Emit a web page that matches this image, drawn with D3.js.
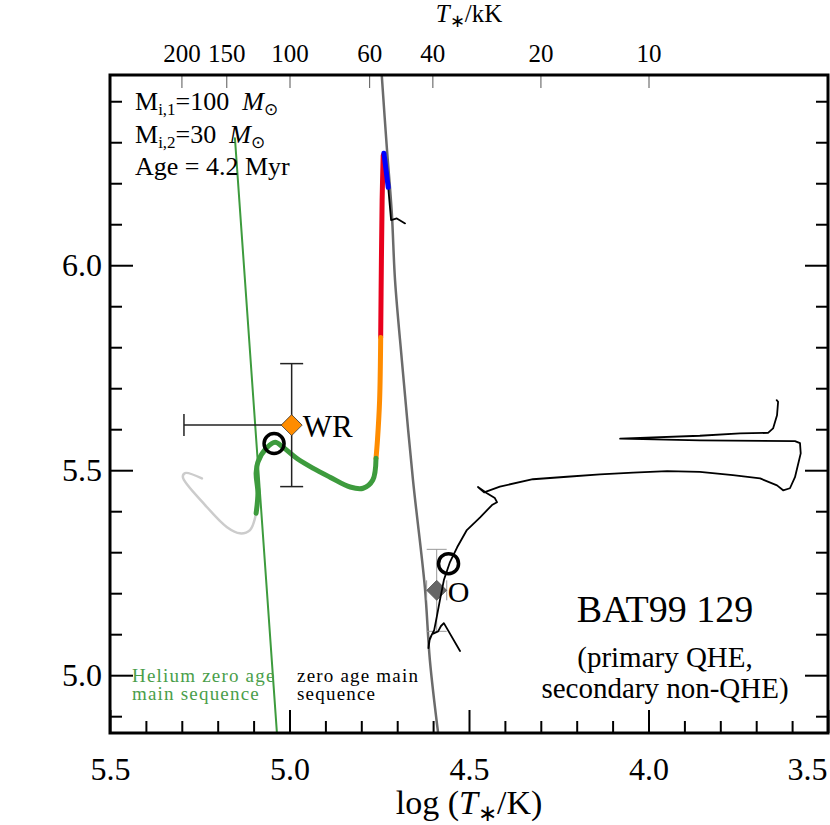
<!DOCTYPE html>
<html lang="en">
<head>
<meta charset="utf-8">
<title>BAT99 129 HRD</title>
<script src="https://d3js.org/d3.v7.min.js"></script>
<style>
  body { margin: 0; background: #fff; }
  svg text { font-family: "Liberation Serif", "Times New Roman", serif; }
</style>
</head>
<body>
<script>
// tick values
var xMajor = [5.5, 5.0, 4.5, 4.0, 3.5];
var xMinor = [5.4, 5.3, 5.2, 5.1, 4.9, 4.8, 4.7, 4.6, 4.4, 4.3, 4.2, 4.1, 3.9, 3.8, 3.7, 3.6];
var yMajor = [5.0, 5.5, 6.0];
var yMinor = [4.9, 5.1, 5.2, 5.3, 5.4, 5.6, 5.7, 5.8, 5.9, 6.1, 6.2, 6.3, 6.4];
var topKK = [200, 150, 100, 60, 40, 20, 10];

// [log T, log L]
var heZAMS = [[5.152, 6.310], [5.035, 4.859]];
var ZAMS = [[4.743, 6.463], [4.729, 6.288], [4.715, 6.127], [4.706, 5.963], [4.687, 5.768],
  [4.656, 5.476], [4.623, 5.215], [4.609, 5.037], [4.586, 4.859]];

// primary track, by phase
var primBlue = [[4.737, 6.273], [4.731, 6.232], [4.725, 6.190]];
var primTail = [[4.725, 6.190], [4.717, 6.110], [4.701, 6.114], [4.678, 6.102]];
var primRed = [[4.739, 6.268], [4.742, 6.159], [4.744, 6.012], [4.746, 5.824]];
var primOrange = [[4.746, 5.824], [4.749, 5.671], [4.755, 5.573], [4.759, 5.529]];
var primWR = [[4.759, 5.529], [4.768, 5.476], [4.795, 5.456], [4.831, 5.459], [4.887, 5.483],
  [4.935, 5.505], [4.980, 5.529], [5.018, 5.556], [5.040, 5.568], [5.064, 5.554],
  [5.088, 5.520], [5.093, 5.493], [5.088, 5.444], [5.093, 5.395]];
var primEnd = [[5.093, 5.395], [5.110, 5.354], [5.138, 5.346], [5.174, 5.361], [5.235, 5.415],
  [5.297, 5.483], [5.291, 5.493], [5.244, 5.480]];

// secondary track
var secondary = [[4.525, 5.059], [4.570, 5.127], [4.578, 5.120], [4.586, 5.107], [4.603, 5.100],
  [4.611, 5.083], [4.613, 5.066], [4.609, 5.090], [4.597, 5.110], [4.589, 5.146],
  [4.581, 5.183], [4.570, 5.232], [4.553, 5.276], [4.533, 5.312], [4.506, 5.354],
  [4.469, 5.385], [4.436, 5.415], [4.422, 5.422], [4.428, 5.432], [4.450, 5.444],
  [4.475, 5.459], [4.458, 5.446], [4.414, 5.460], [4.322, 5.478], [4.227, 5.484],
  [4.135, 5.490], [4.043, 5.494], [3.948, 5.498], [3.857, 5.496], [3.765, 5.488],
  [3.689, 5.480], [3.642, 5.463], [3.625, 5.451], [3.606, 5.456], [3.592, 5.483],
  [3.576, 5.541], [3.578, 5.566], [3.592, 5.571], [3.857, 5.573], [4.079, 5.577],
  [3.857, 5.584], [3.745, 5.590], [3.667, 5.591], [3.653, 5.602], [3.642, 5.634],
  [3.639, 5.667], [3.643, 5.671]];

// observed positions and model positions
var wrStar = [4.994, 5.610], wrErrT = [0.30, 0.0], wrErrL = 0.15;
var oStar = [4.590, 5.207], oErrT = 0.028, oErrL = 0.10;
var modelPos = [[5.043, 5.565], [4.557, 5.272]];

var serif = "Liberation Serif, Times New Roman, serif";
var width = 830, height = 825;
var pLeft = 110, pRight = 828, pTop = 75, pBottom = 733;

var svg = d3.select("body").append("svg")
    .attr("width", width)
    .attr("height", height);

var x = d3.scaleLinear().domain([5.5, 3.5]).range([pLeft, pRight]);
var y = d3.scaleLinear().domain([4.859, 6.464]).range([pBottom, pTop]);

svg.append("clipPath").attr("id", "plot")
  .append("rect")
    .attr("x", pLeft).attr("y", pTop)
    .attr("width", pRight - pLeft).attr("height", pBottom - pTop);

var g = svg.append("g").attr("clip-path", "url(#plot)");

var line = d3.line().x(function(d) { return x(d[0]); }).y(function(d) { return y(d[1]); });
var smooth = d3.line().curve(d3.curveCatmullRom.alpha(0.5))
    .x(function(d) { return x(d[0]); }).y(function(d) { return y(d[1]); });

function track(data, gen, color, w) {
  g.append("path").datum(data)
    .attr("d", gen)
    .attr("fill", "none")
    .attr("stroke", color)
    .attr("stroke-width", w)
    .attr("stroke-linejoin", "round")
    .attr("stroke-linecap", "round");
}

track(heZAMS, line, "#3d9b3d", 2);
track(ZAMS, smooth, "#6b6b6b", 2.5);
track(primEnd, smooth, "#cccccc", 2.5);
track(primTail, line, "#000", 1.8);
track(primRed, smooth, "#e8001c", 5);
track(primOrange, smooth, "#ff8c00", 5);
track(primWR, smooth, "#3d9b3d", 5);
track(primBlue, line, "#0000ff", 5);

// O star error bars and symbol (under the secondary track)
var ox = x(oStar[0]), oy = y(oStar[1]);
var eb = g.append("g").attr("stroke", "#999").attr("stroke-width", 1).attr("fill", "none");
eb.append("line").attr("x1", ox).attr("x2", ox).attr("y1", y(oStar[1] + oErrL)).attr("y2", y(oStar[1] - oErrL));
eb.append("line").attr("x1", ox - 10).attr("x2", ox + 10).attr("y1", y(oStar[1] + oErrL)).attr("y2", y(oStar[1] + oErrL));
eb.append("line").attr("x1", ox - 10).attr("x2", ox + 10).attr("y1", y(oStar[1] - oErrL)).attr("y2", y(oStar[1] - oErrL));
eb.append("line").attr("x1", x(oStar[0] + oErrT)).attr("x2", x(oStar[0] - oErrT)).attr("y1", oy).attr("y2", oy);
eb.append("line").attr("x1", x(oStar[0] + oErrT)).attr("x2", x(oStar[0] + oErrT)).attr("y1", oy - 10).attr("y2", oy + 10);
eb.append("line").attr("x1", x(oStar[0] - oErrT)).attr("x2", x(oStar[0] - oErrT)).attr("y1", oy - 10).attr("y2", oy + 10);

function diamond(cx, cy, r) {
  return "M" + cx + "," + (cy - r) + "L" + (cx + r) + "," + cy + "L" + cx + "," + (cy + r) + "L" + (cx - r) + "," + cy + "Z";
}

g.append("path").attr("d", diamond(ox, oy, 10)).attr("fill", "#666").attr("stroke", "#555").attr("stroke-width", 0.8);

track(secondary, line, "#000", 1.8);

// WR error bars
var wx = x(wrStar[0]), wy = y(wrStar[1]);
var ew = g.append("g").attr("stroke", "#222").attr("stroke-width", 1.5);
ew.append("line").attr("x1", wx).attr("x2", wx).attr("y1", y(wrStar[1] + wrErrL)).attr("y2", y(wrStar[1] - wrErrL));
ew.append("line").attr("x1", wx - 11.5).attr("x2", wx + 11.5).attr("y1", y(wrStar[1] + wrErrL)).attr("y2", y(wrStar[1] + wrErrL));
ew.append("line").attr("x1", wx - 11.5).attr("x2", wx + 11.5).attr("y1", y(wrStar[1] - wrErrL)).attr("y2", y(wrStar[1] - wrErrL));
ew.append("line").attr("x1", x(wrStar[0] + wrErrT[0])).attr("x2", x(wrStar[0] - wrErrT[1])).attr("y1", wy).attr("y2", wy);
ew.append("line").attr("x1", x(wrStar[0] + wrErrT[0])).attr("x2", x(wrStar[0] + wrErrT[0])).attr("y1", wy - 11).attr("y2", wy + 11);

g.append("path").attr("d", diamond(wx, wy, 10.5)).attr("fill", "#ff8c00").attr("stroke", "#333").attr("stroke-width", 0.8);

g.selectAll("circle.model").data(modelPos).enter().append("circle")
    .attr("class", "model")
    .attr("cx", function(d) { return x(d[0]); })
    .attr("cy", function(d) { return y(d[1]); })
    .attr("r", 10)
    .attr("fill", "none")
    .attr("stroke", "#000")
    .attr("stroke-width", 3.5);

svg.append("text").attr("x", wx + 11).attr("y", wy + 12).attr("font-size", 31).text("WR");
svg.append("text").attr("x", ox + 11).attr("y", oy + 12).attr("font-size", 30).text("O");

// axes
function styleAxis(sel, w, color) {
  sel.attr("font-family", serif);
  sel.select(".domain").remove();
  sel.selectAll(".tick line").attr("stroke", color).attr("stroke-width", w);
}

var bMinor = svg.append("g").attr("transform", "translate(0," + pBottom + ")")
    .call(d3.axisBottom(x).tickValues(xMinor).tickSize(-12).tickFormat(""));
styleAxis(bMinor, 2, "#000");
var bMajor = svg.append("g").attr("transform", "translate(0," + pBottom + ")")
    .call(d3.axisBottom(x).tickValues(xMajor).tickSize(-23).tickPadding(24).tickFormat(d3.format(".1f")));
styleAxis(bMajor, 2, "#000");
bMajor.selectAll("text").attr("font-size", 32).attr("fill", "#000");
bMajor.selectAll("text").filter(function(d) { return d === 3.5; }).attr("text-anchor", "end").attr("dx", -1);

var lMinor = svg.append("g").attr("transform", "translate(" + pLeft + ",0)")
    .call(d3.axisLeft(y).tickValues(yMinor).tickSize(-12).tickFormat(""));
styleAxis(lMinor, 2, "#000");
var lMajor = svg.append("g").attr("transform", "translate(" + pLeft + ",0)")
    .call(d3.axisLeft(y).tickValues(yMajor).tickSize(-23).tickPadding(8).tickFormat(d3.format(".1f")));
styleAxis(lMajor, 2, "#000");
lMajor.selectAll("text").attr("font-size", 32).attr("fill", "#000");

var rMinor = svg.append("g").attr("transform", "translate(" + pRight + ",0)")
    .call(d3.axisRight(y).tickValues(yMinor).tickSize(-12).tickFormat(""));
styleAxis(rMinor, 2, "#000");
var rMajor = svg.append("g").attr("transform", "translate(" + pRight + ",0)")
    .call(d3.axisRight(y).tickValues(yMajor).tickSize(-23).tickFormat(""));
styleAxis(rMajor, 2, "#000");

var tAxis = svg.append("g").attr("transform", "translate(0," + pTop + ")")
    .call(d3.axisTop(x).tickValues(topKK.map(function(k) { return Math.log10(k * 1000); }))
      .tickSize(-13).tickPadding(13)
      .tickFormat(function(d, i) { return topKK[i]; }));
styleAxis(tAxis, 1, "#555");
tAxis.selectAll("text").attr("font-size", 25).attr("fill", "#000");

// frame
svg.append("rect")
    .attr("x", pLeft).attr("y", pTop)
    .attr("width", pRight - pLeft).attr("height", pBottom - pTop)
    .attr("fill", "none").attr("stroke", "#000").attr("stroke-width", 3);

// axis titles
var xt = svg.append("text").attr("x", (pLeft + pRight) / 2).attr("y", 814)
    .attr("text-anchor", "middle").attr("font-size", 34);
xt.append("tspan").text("log (");
xt.append("tspan").attr("font-style", "italic").text("T");
xt.append("tspan").attr("font-size", 23).attr("dy", 7).text("\u2217");
xt.append("tspan").attr("dy", -7).text("/K)");

var tt = svg.append("text").attr("x", (pLeft + pRight) / 2).attr("y", 22)
    .attr("text-anchor", "middle").attr("font-size", 25);
tt.append("tspan").attr("font-style", "italic").text("T");
tt.append("tspan").attr("font-size", 18).attr("dy", 5).text("\u2217");
tt.append("tspan").attr("dy", -5).text("/kK");

// model annotation
var massLines = [["i,1", "=100"], ["i,2", "=30"]];
massLines.forEach(function(m, i) {
  var t = svg.append("text").attr("x", 135).attr("y", 110 + i * 33).attr("font-size", 26);
  t.append("tspan").text("M");
  t.append("tspan").attr("font-size", 17).attr("dy", 5).text(m[0]);
  t.append("tspan").attr("dy", -5).text(m[1] + "\u00a0\u00a0");
  t.append("tspan").attr("font-style", "italic").text("M");
  t.append("tspan").attr("font-size", 17).attr("dy", 5).text("\u2299");
});
svg.append("text").attr("x", 135).attr("y", 175).attr("font-size", 26).text("Age = 4.2 Myr");

// star name
svg.append("text").attr("x", 665).attr("y", 622).attr("text-anchor", "middle").attr("font-size", 38).text("BAT99 129");
svg.append("text").attr("x", 665).attr("y", 667).attr("text-anchor", "middle").attr("font-size", 29).text("(primary QHE,");
svg.append("text").attr("x", 665).attr("y", 698).attr("text-anchor", "middle").attr("font-size", 29).text("secondary non-QHE)");

// line labels
var heLab = ["Helium zero age", "main sequence"];
var zLab = ["zero age main", "sequence"];
heLab.forEach(function(s, i) {
  svg.append("text").attr("x", 132).attr("y", 682 + i * 18).attr("font-size", 19)
    .attr("letter-spacing", 1.2).attr("fill", "#4a9e4a").text(s);
});
zLab.forEach(function(s, i) {
  svg.append("text").attr("x", 297).attr("y", 682 + i * 18).attr("font-size", 19)
    .attr("letter-spacing", 1.2).attr("fill", "#000").text(s);
});
</script>
</body>
</html>
